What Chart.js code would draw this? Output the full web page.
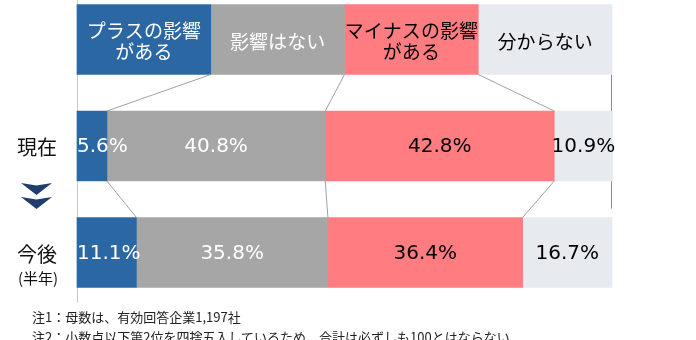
<!DOCTYPE html>
<html>
<head>
<meta charset="utf-8">
<script src="https://cdn.jsdelivr.net/npm/chart.js@4"></script>
<style>
  body { margin: 0; background: #fff; }
  #wrap { position: relative; width: 696px; height: 340px; overflow: hidden; }
  .note { position: absolute; left: 32px; font: 13px "Noto Sans CJK JP", sans-serif; color: #222; line-height: 20px; white-space: nowrap; }
</style>
</head>
<body>
<div id="wrap">
  <canvas id="myChart" width="696" height="340"></canvas>
  <div class="note" style="top:307px">注1：母数は、有効回答企業1,197社</div>
  <div class="note" style="top:327px">注2：小数点以下第2位を四捨五入しているため、合計は必ずしも100とはならない</div>
</div>
<script>
const categories = ["", "現在", "今後"];
const seriesNames = ["プラスの影響がある", "影響はない", "マイナスの影響がある", "分からない"];
const headerLines = [["プラスの影響", "がある"], ["影響はない"], ["マイナスの影響", "がある"], ["分からない"]];
const headerShare = [25, 25, 25, 25];
const current = [5.6, 40.8, 42.8, 10.9];
const future = [11.1, 35.8, 36.4, 16.7];

const colors = ["#2b67a3", "#a6a6a6", "#ff7c80", "#e7eaee"];
const textColors = ["#fff", "#fff", "#000", "#000"];
const FONT = '"Noto Sans CJK JP", sans-serif';
const NUMFONT = '"DejaVu Sans", sans-serif';

const decorPlugin = {
  id: "decor",
  beforeDatasetsDraw(chart) {
    const c = chart.ctx;
    const x = chart.scales.x;
    const head = chart.getDatasetMeta(0).data[0];
    const row2 = chart.getDatasetMeta(0).data[2];
    c.save();
    c.strokeStyle = "#c8c8c8";
    c.lineWidth = 1;
    const x0 = Math.round(x.getPixelForValue(0)) + 0.5;
    c.beginPath();
    c.moveTo(x0, 0);
    c.lineTo(x0, 303);
    c.stroke();
    c.strokeStyle = "#8c8c8c";
    const x1 = Math.round(x.getPixelForValue(100)) - 0.5;
    c.beginPath();
    c.moveTo(x1, head.y + head.height / 2);
    c.lineTo(x1, row2.y - row2.height / 2 - 9);
    c.stroke();
    c.restore();
  },
  afterDatasetsDraw(chart) {
    const c = chart.ctx;
    const area = chart.chartArea;
    c.save();
    // series lines between rows
    c.strokeStyle = "#a0a0a0";
    c.lineWidth = 1;
    for (let r = 0; r < categories.length - 1; r++) {
      for (let k = 0; k < seriesNames.length - 1; k++) {
        const a = chart.getDatasetMeta(k).data[r];
        const b = chart.getDatasetMeta(k).data[r + 1];
        c.beginPath();
        c.moveTo(a.x, a.y + a.height / 2);
        c.lineTo(b.x, b.y - b.height / 2);
        c.stroke();
      }
    }
    // labels
    c.textAlign = "center";
    c.textBaseline = "middle";
    chart.data.datasets.forEach((ds, k) => {
      const meta = chart.getDatasetMeta(k);
      meta.data.forEach((el, r) => {
        c.fillStyle = textColors[k];
        const cx = (el.x + el.base) / 2;
        if (r === 0) {
          c.font = "19px " + FONT;
          const lines = headerLines[k];
          lines.forEach((t, i) => {
            c.fillText(t, cx, el.y + 2 + (i - (lines.length - 1) / 2) * 21);
          });
        } else {
          c.font = "20px " + NUMFONT;
          const t = ds.data[r].toFixed(1) + "%";
          const w = c.measureText(t).width;
          let px = cx;
          if (px - w / 2 < area.left) px = area.left + w / 2;
          c.fillText(t, px, el.y + 1);
        }
      });
    });
    // row labels
    const y = chart.scales.y;
    c.fillStyle = "#111";
    c.font = "20px " + FONT;
    c.fillText(categories[1], 37, y.getPixelForValue(1) + 1);
    c.fillText(categories[2], 37, y.getPixelForValue(2) + 2);
    c.font = "15px " + FONT;
    c.fillText("(半年)", 38, y.getPixelForValue(2) + 26);
    // arrows
    c.fillStyle = "#1f3e6b";
    [183, 197].forEach((top) => {
      c.beginPath();
      c.moveTo(21, top);
      c.lineTo(36.5, top + 2.5);
      c.lineTo(52, top);
      c.lineTo(36.5, top + 12);
      c.closePath();
      c.fill();
    });
    c.restore();
  }
};

const ctx = document.getElementById("myChart").getContext("2d");

const myChart = new Chart(ctx, {
  type: "bar",
  data: {
    labels: categories,
    datasets: seriesNames.map((name, k) => ({
      label: name,
      data: [headerShare[k], current[k], future[k]],
      backgroundColor: colors[k],
      borderWidth: 0,
      barThickness: 70,
      clip: false,
    })),
  },
  plugins: [decorPlugin],
  options: {
    indexAxis: "y",
    responsive: false,
    animation: false,
    layout: {
      padding: { left: 77, right: 84, top: 39.5, bottom: 87.5 },
    },
    scales: {
      x: { stacked: true, min: 0, max: 100, display: false },
      y: { stacked: true, offset: false, display: false },
    },
    plugins: {
      legend: { display: false },
      tooltip: { enabled: false },
    },
  },
});
</script>
</body>
</html>
